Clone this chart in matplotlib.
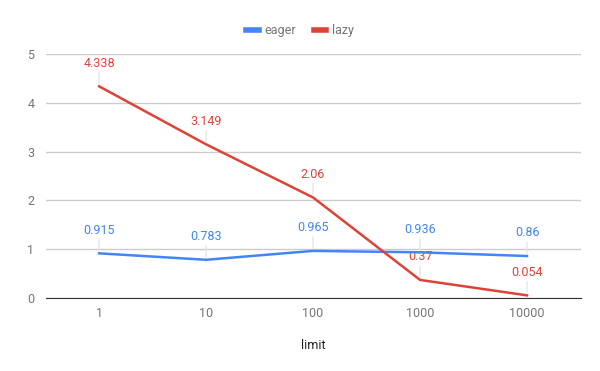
import matplotlib
matplotlib.use("Agg")
import matplotlib.pyplot as plt

categories = ["1", "10", "100", "1000", "10000"]
eager = [0.915, 0.783, 0.965, 0.936, 0.86]
lazy = [4.338, 3.149, 2.06, 0.37, 0.054]
eager_labels = ["0.915", "0.783", "0.965", "0.936", "0.86"]
lazy_labels = ["4.338", "3.149", "2.06", "0.37", "0.054"]
y_ticks = [0, 1, 2, 3, 4, 5]

plt.rcParams['font.family'] = ['Roboto', 'DejaVu Sans']

BLUE = "#4285F4"
RED = "#DB4437"

fig = plt.figure(figsize=(6, 3.71), dpi=100)
ax = fig.add_axes([0.076, 0.1968, 0.8915, 0.6576])

x = list(range(len(categories)))
ax.plot(x, eager, color=BLUE, lw=1.8, label="eager", zorder=3)
ax.plot(x, lazy, color=RED, lw=1.8, label="lazy", zorder=3)

for xs, vals, labs, col in [(x, eager, eager_labels, BLUE), (x, lazy, lazy_labels, RED)]:
    for xi, v, lab in zip(xs, vals, labs):
        ax.annotate(lab, xy=(xi, v), xytext=(0, 12), textcoords="offset points",
                    ha="center", va="bottom", fontsize=9, color=col,
                    arrowprops=dict(arrowstyle='-', color='#e6e6e6', lw=1,
                                    shrinkA=0, shrinkB=2), zorder=2)

ax.set_xlim(-0.5, len(categories) - 0.5)
ax.set_ylim(0, 5)
ax.set_yticks(y_ticks)
ax.set_yticklabels([str(t) for t in y_ticks])
ax.set_xticks(x)
ax.set_xticklabels(categories)
ax.grid(axis='y', color='#cccccc', lw=1)
ax.set_axisbelow(True)
for s in ['top', 'right', 'left']:
    ax.spines[s].set_visible(False)
ax.spines['bottom'].set_color('#333333')
ax.spines['bottom'].set_zorder(4)
ax.tick_params(axis='both', length=0, labelsize=9, colors='#757575')
ax.tick_params(axis='x', pad=6.5)
ax.tick_params(axis='y', pad=8)
ax.set_xlabel("limit", fontsize=9, color='#222222', labelpad=14)

leg = fig.legend(loc='upper center', bbox_to_anchor=(0.5, 0.965), ncol=2, frameon=False,
                 fontsize=9, handlelength=1.0, handletextpad=0.45, columnspacing=1.4)
for line in leg.get_lines():
    line.set_linewidth(4)
for t in leg.get_texts():
    t.set_color('#757575')

fig.savefig("out.png", dpi=100)
